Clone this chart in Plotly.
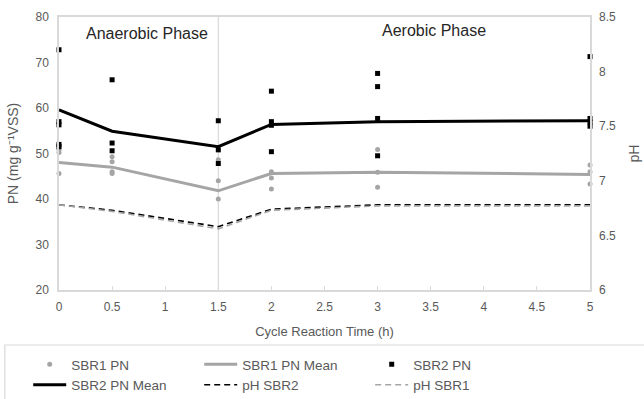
import plotly.graph_objects as go

# Sampling times (h) and replicate PN measurements per time point
times = [0, 0.5, 1.5, 2, 3, 5]

sbr1_pn = [
    [50.9, 50.2, 45.6],
    [49.3, 48.2, 46.0, 45.6],
    [48.6, 44.0, 40.0],
    [46.0, 44.6, 42.2],
    [50.9, 45.9, 42.6],
    [47.5, 46.0, 43.3],
]
sbr2_pn = [
    [72.8, 57.0, 56.3, 52.0, 51.5],
    [66.2, 52.3, 50.6],
    [57.2, 50.8, 47.8],
    [63.7, 57.0, 56.2, 50.4],
    [67.6, 64.7, 57.7, 49.5],
    [71.3, 57.7, 56.9, 56.0],
]

sbr1_mean = [48.0, 47.0, 41.8, 45.6, 45.9, 45.4]
sbr2_mean = [59.6, 54.9, 51.5, 56.4, 57.0, 57.2]

ph_sbr2 = [6.78, 6.73, 6.58, 6.74, 6.78, 6.78]
ph_sbr1 = [6.78, 6.72, 6.56, 6.73, 6.77, 6.77]

x_ticks = [0, 0.5, 1, 1.5, 2, 2.5, 3, 3.5, 4, 4.5, 5]


def flatten(groups):
    xs, ys = [], []
    for t, vals in zip(times, groups):
        for v in vals:
            xs.append(t)
            ys.append(v)
    return xs, ys


GRAY = "#a5a5a5"
TXT = "#595959"
GRID = "#d9d9d9"
FONT = "Arial"

fig = go.Figure()

x1, y1 = flatten(sbr1_pn)
x2, y2 = flatten(sbr2_pn)

fig.add_trace(go.Scatter(x=x1, y=y1, mode="markers", name="SBR1 PN",
                         marker=dict(symbol="circle", size=5, color=GRAY),
                         cliponaxis=False))
fig.add_trace(go.Scatter(x=times, y=sbr1_mean, mode="lines", name="SBR1 PN Mean",
                         line=dict(color=GRAY, width=3)))
fig.add_trace(go.Scatter(x=x2, y=y2, mode="markers", name="SBR2 PN",
                         marker=dict(symbol="square", size=5, color="black"),
                         cliponaxis=False))
fig.add_trace(go.Scatter(x=times, y=sbr2_mean, mode="lines", name="SBR2 PN Mean",
                         line=dict(color="black", width=3)))
fig.add_trace(go.Scatter(x=times, y=ph_sbr2, mode="lines", name="pH SBR2", yaxis="y2",
                         line=dict(color="black", width=1.6, dash="6px,4px")))
fig.add_trace(go.Scatter(x=times, y=ph_sbr1, mode="lines", name="pH SBR1", yaxis="y2",
                         line=dict(color=GRAY, width=1.6, dash="6px,4px")))

# Divider between anaerobic and aerobic phases
fig.add_shape(type="line", x0=1.5, x1=1.5, y0=0, y1=1, xref="x", yref="paper",
              line=dict(color=GRID, width=1.2), layer="below")

# Frame around the legend block
fig.add_shape(type="rect", x0=-0.102, x1=1.12, y0=-0.42, y1=-0.2015,
              xref="paper", yref="paper", line=dict(color=GRID, width=1.2))

fig.add_annotation(x=0.83, y=0.94, xref="x", yref="paper", text="Anaerobic Phase",
                   showarrow=False, yanchor="middle",
                   font=dict(family=FONT, size=16, color="#262626"))
fig.add_annotation(x=3.53, y=0.952, xref="x", yref="paper", text="Aerobic Phase",
                   showarrow=False, yanchor="middle",
                   font=dict(family=FONT, size=16, color="#262626"))

fig.update_layout(
    width=644, height=399,
    margin=dict(l=59, r=54, t=17, b=109, autoexpand=False),
    paper_bgcolor="white", plot_bgcolor="white",
    font=dict(family=FONT, size=12, color=TXT),
    showlegend=True,
    legend=dict(
        orientation="h", x=-0.058, y=-0.216, xanchor="left", yanchor="top",
        entrywidth=123, entrywidthmode="pixels",
        borderwidth=0, bgcolor="rgba(0,0,0,0)",
        font=dict(family=FONT, size=13.5, color=TXT),
        tracegroupgap=0, itemwidth=33,
    ),
    xaxis=dict(
        range=[0, 5], tickvals=x_ticks, ticktext=[f"{v:g}" for v in x_ticks],
        showgrid=False, zeroline=False, showline=True, linecolor=GRID, linewidth=1.5,
        mirror=True, ticks="inside", ticklen=4, tickcolor=GRID, ticklabelstandoff=5,
        title=dict(text="Cycle Reaction Time (h)", font=dict(size=13, color=TXT), standoff=14),
        tickfont=dict(size=12, color=TXT), automargin=False,
    ),
    yaxis=dict(
        range=[20, 80], dtick=10, showgrid=False, zeroline=False,
        showline=True, linecolor=GRID, linewidth=1.5, mirror=True, ticks="",
        ticklabelstandoff=6,
        title=dict(text="PN (mg g⁻¹VSS)", font=dict(size=14, color=TXT), standoff=14),
        tickfont=dict(size=12, color=TXT), automargin=False,
    ),
    yaxis2=dict(
        range=[6, 8.5], dtick=0.5, overlaying="y", side="right",
        showgrid=False, zeroline=False, showline=False, ticks="",
        ticklabelstandoff=8,
        title=dict(text="pH", font=dict(size=14, color=TXT), standoff=14),
        tickfont=dict(size=12, color=TXT), automargin=False,
    ),
)

fig.write_html("out.html")
